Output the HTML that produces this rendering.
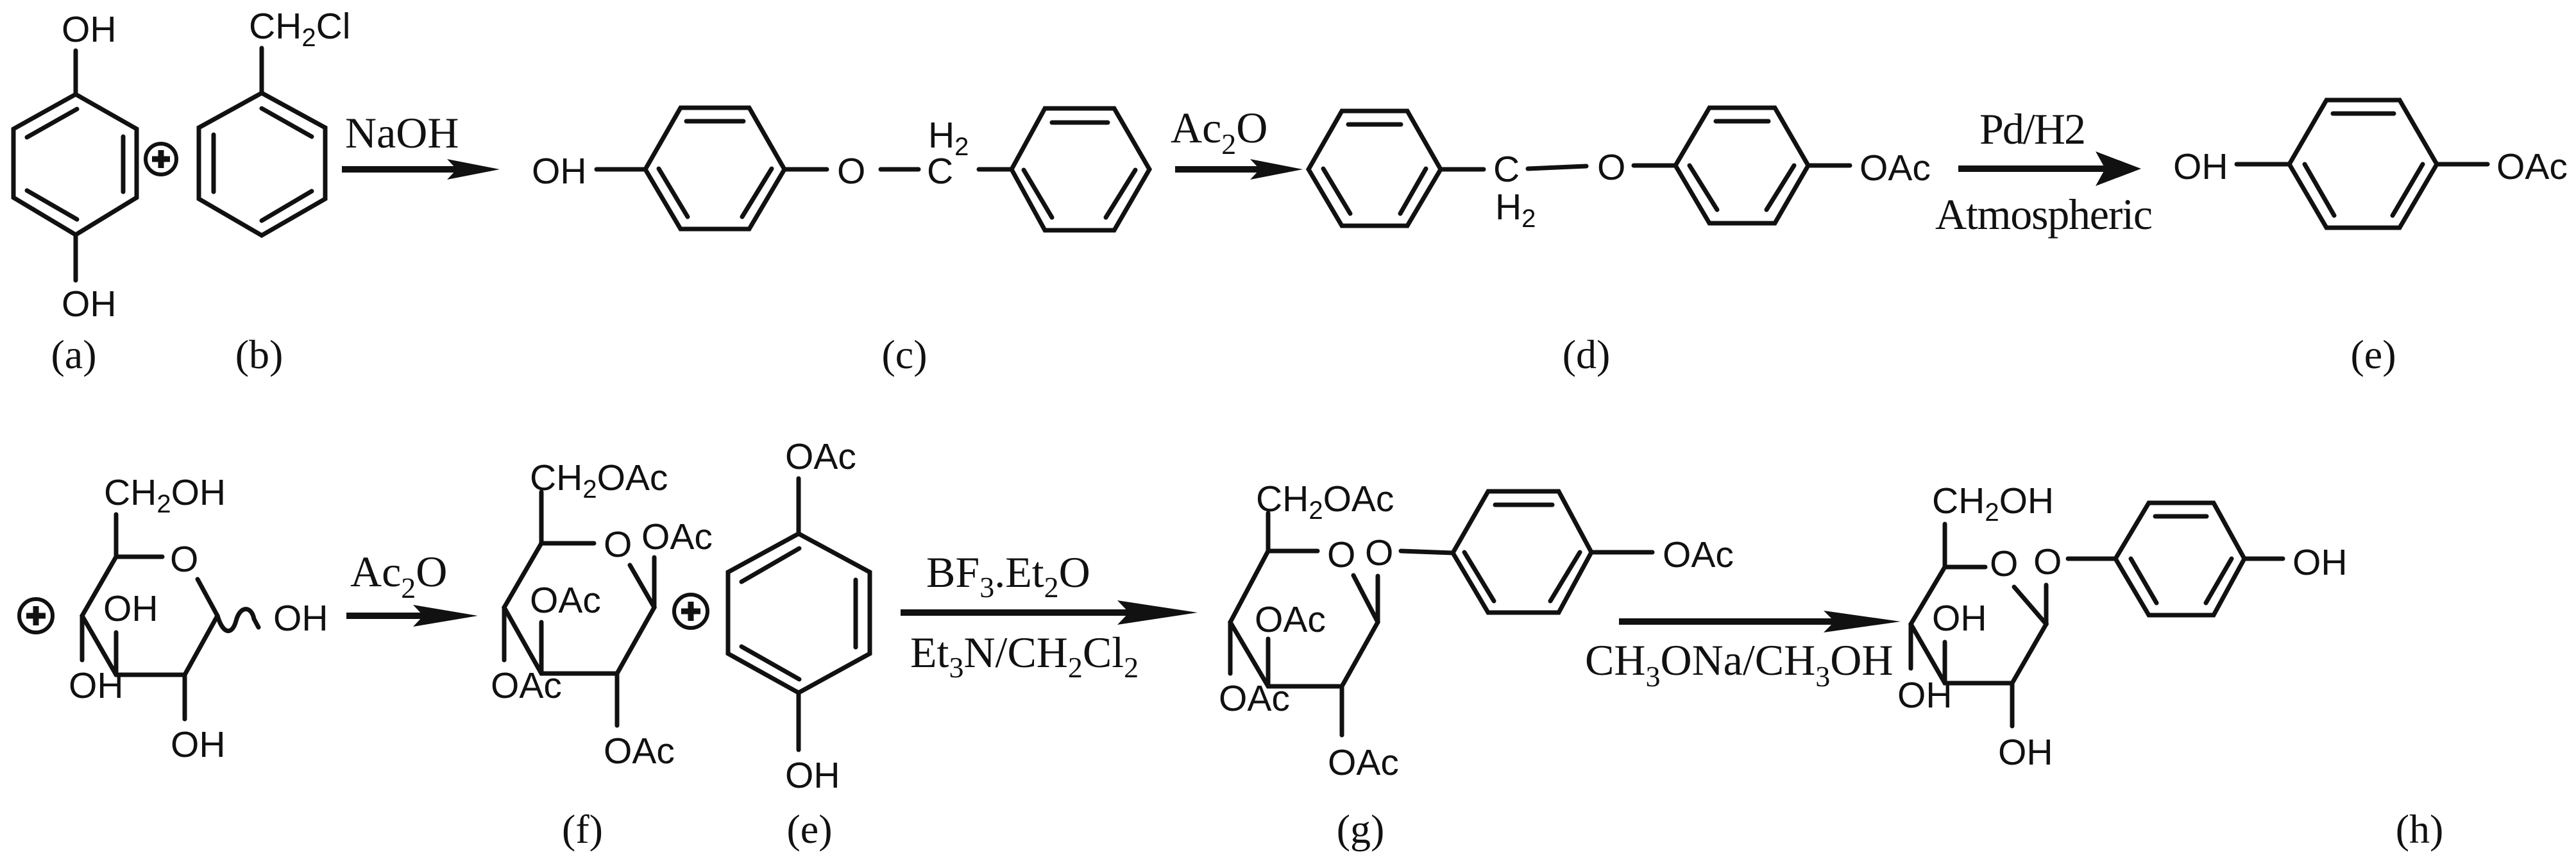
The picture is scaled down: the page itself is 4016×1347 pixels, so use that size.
<!DOCTYPE html>
<html><head><meta charset="utf-8"><style>
html,body{margin:0;padding:0;background:#fff;}
svg{display:block;}
.s{font-family:"Liberation Sans",Arial,sans-serif;font-size:57px;fill:#111;}
.sb{font-size:40px;}
.t{font-family:"Liberation Serif","Times New Roman",serif;fill:#111;}
</style></head><body>
<svg width="4016" height="1347" viewBox="0 0 4016 1347" xmlns="http://www.w3.org/2000/svg">
<rect width="4016" height="1347" fill="#fff"/>
<g fill="none" stroke="#111" stroke-width="7" stroke-linejoin="miter" stroke-linecap="round">
<polygon points="118,147 213,201 213,308 118,366 21,308 21,201"/>
<line x1="42" y1="214" x2="120" y2="170"/><line x1="192" y1="213" x2="192" y2="299"/><line x1="42" y1="297" x2="120" y2="342"/>
<line x1="118" y1="79" x2="118" y2="147"/><line x1="118" y1="366" x2="118" y2="437"/>
<polygon points="408,145 507,199 507,310 408,367 310,310 310,199"/>
<line x1="408" y1="169" x2="486" y2="213"/><line x1="333" y1="210" x2="333" y2="299"/><line x1="408" y1="344" x2="486" y2="298"/>
<line x1="408" y1="75" x2="408" y2="145"/>
<polygon points="1006,264 1061,168 1168,168 1223,264 1168,357 1061,357"/>
<line x1="1070" y1="189" x2="1159" y2="189"/><line x1="1027" y1="263" x2="1072" y2="338"/><line x1="1203" y1="263" x2="1157" y2="338"/>
<line x1="930" y1="264" x2="1006" y2="264"/><line x1="1223" y1="264" x2="1289" y2="264"/><line x1="1373" y1="264" x2="1432" y2="264"/>
<polygon points="1577,264 1629,169 1737,169 1792,264 1737,359 1629,359"/>
<line x1="1640" y1="191" x2="1727" y2="191"/><line x1="1596" y1="265" x2="1640" y2="339"/><line x1="1770" y1="265" x2="1724" y2="339"/>
<line x1="1526" y1="264" x2="1577" y2="264"/>
<polygon points="2040,264 2092,173 2194,173 2246,264 2194,352 2092,352"/>
<line x1="2102" y1="194" x2="2184" y2="194"/><line x1="2063" y1="263" x2="2105" y2="333"/><line x1="2223" y1="263" x2="2183" y2="333"/>
<line x1="2246" y1="264" x2="2313" y2="264"/><line x1="2382" y1="263" x2="2473" y2="259"/><line x1="2547" y1="258" x2="2612" y2="258"/>
<polygon points="2612,258 2665,168 2767,168 2819,258 2767,348 2665,348"/>
<line x1="2675" y1="189" x2="2757" y2="189"/><line x1="2634" y1="258" x2="2677" y2="327"/><line x1="2797" y1="258" x2="2754" y2="327"/>
<line x1="2819" y1="258" x2="2884" y2="258"/>
<polygon points="3569,256 3627,156 3741,156 3799,256 3741,355 3627,355"/>
<line x1="3637" y1="177" x2="3732" y2="177"/><line x1="3593" y1="256" x2="3639" y2="336"/><line x1="3777" y1="256" x2="3730" y2="336"/>
<line x1="3487" y1="256" x2="3569" y2="256"/><line x1="3799" y1="256" x2="3878" y2="256"/>

<polyline points="308,903 339,960 288,1052 181,1052 128,960 181,868 253,868"/>
<line x1="181" y1="868" x2="181" y2="802"/><line x1="128" y1="960" x2="128" y2="1029"/>
<line x1="181" y1="1052" x2="181" y2="986"/><line x1="288" y1="1052" x2="288" y2="1121"/>
<path d="M339,960 C348,990 362,990 368,968 C374,944 392,944 396,965 L403,978"/>
<polyline points="982,881 1020,947 962,1050 844,1050 786,947 844,847 926,847"/>
<line x1="844" y1="847" x2="844" y2="767"/><line x1="1020" y1="947" x2="1020" y2="869"/>
<line x1="786" y1="947" x2="786" y2="1029"/><line x1="844" y1="1050" x2="844" y2="970"/><line x1="962" y1="1050" x2="962" y2="1131"/>
<polygon points="1245,832 1356,892 1356,1019 1245,1080 1135,1019 1135,892"/>
<line x1="1156" y1="907" x2="1246" y2="855"/><line x1="1334" y1="904" x2="1334" y2="1009"/><line x1="1156" y1="1008" x2="1246" y2="1059"/>
<line x1="1245" y1="746" x2="1245" y2="832"/><line x1="1245" y1="1080" x2="1245" y2="1169"/>
<polyline points="2110,897 2148,970 2092,1070 1977,1070 1918,970 1977,859 2054,859"/>
<line x1="1977" y1="859" x2="1977" y2="800"/><line x1="2148" y1="970" x2="2148" y2="898"/>
<line x1="1918" y1="970" x2="1918" y2="1050"/><line x1="1977" y1="1070" x2="1977" y2="996"/><line x1="2092" y1="1070" x2="2092" y2="1146"/>
<line x1="2184" y1="859" x2="2265" y2="862"/>
<polygon points="2265,862 2320,766 2430,766 2481,861 2430,955 2320,955"/>
<line x1="2331" y1="787" x2="2420" y2="787"/><line x1="2463" y1="861" x2="2417" y2="937"/><line x1="2283" y1="861" x2="2329" y2="937"/>
<line x1="2481" y1="861" x2="2576" y2="861"/>
<polyline points="3140,915 3190,973 3137,1065 3032,1065 2979,973 3032,884 3095,884"/>
<line x1="3032" y1="884" x2="3032" y2="817"/><line x1="3190" y1="973" x2="3190" y2="912"/>
<line x1="2979" y1="973" x2="2979" y2="1042"/><line x1="3032" y1="1065" x2="3032" y2="1001"/><line x1="3137" y1="1065" x2="3137" y2="1132"/>
<line x1="3224" y1="871" x2="3298" y2="871"/>
<polygon points="3298,871 3350,784 3451,784 3499,871 3451,959 3350,959"/>
<line x1="3360" y1="805" x2="3440" y2="805"/><line x1="3322" y1="871" x2="3362" y2="940"/><line x1="3479" y1="871" x2="3439" y2="940"/>
<line x1="3499" y1="871" x2="3559" y2="871"/>

<circle cx="251" cy="248" r="24" stroke-width="6"/>
<circle cx="56" cy="960" r="26" stroke-width="6"/>
<circle cx="1077" cy="953" r="26" stroke-width="6"/>
</g>
<g stroke="#111" stroke-width="9">
<line x1="237" y1="248" x2="265" y2="248"/><line x1="251" y1="234" x2="251" y2="262"/>
<line x1="41" y1="960" x2="71" y2="960"/><line x1="56" y1="945" x2="56" y2="975"/>
<line x1="1062" y1="953" x2="1092" y2="953"/><line x1="1077" y1="938" x2="1077" y2="968"/>
</g>
<g stroke="#111" stroke-width="10">
<line x1="533" y1="264" x2="715" y2="264"/>
<line x1="1832" y1="264" x2="1965" y2="264"/>
<line x1="3053" y1="263" x2="3285" y2="263"/>
<line x1="540" y1="960" x2="660" y2="960"/>
<line x1="1404" y1="955" x2="1762" y2="955"/>
<line x1="2524" y1="969" x2="2860" y2="969"/>
</g>
<g fill="#111">
<polygon points="779,264 697,248 712,264 697,280"/>
<polygon points="2031,264 1949,248 1964,264 1949,280"/>
<polygon points="3338,263 3267,236 3282,263 3267,290"/>
<polygon points="745,960 644,943 660,960 644,977"/>
<polygon points="1867,955 1742,936 1760,955 1742,974"/>
<polygon points="2963,969 2843,952 2860,969 2843,986"/>
</g>

<g class="s">
<text x="96" y="65">OH</text>
<text x="96" y="493">OH</text>
<text x="388" y="60">CH<tspan class="sb" dy="12">2</tspan><tspan dy="-12">Cl</tspan></text>
<text x="829" y="286">OH</text>
<text x="1305" y="286">O</text>
<text x="1445" y="286">C</text>
<text x="1447" y="230">H<tspan class="sb" dy="12">2</tspan></text>
<text x="2328" y="283">C</text>
<text x="2331" y="342">H<tspan class="sb" dy="12">2</tspan></text>
<text x="2490" y="280">O</text>
<text x="2899" y="281">OAc</text>
<text x="3388" y="279">OH</text>
<text x="3892" y="279">OAc</text>

<text x="162" y="787">CH<tspan class="sb" dy="12">2</tspan><tspan dy="-12">OH</tspan></text>
<text x="265" y="891">O</text>
<text x="161" y="968">OH</text>
<text x="107" y="1088">OH</text>
<text x="266" y="1180">OH</text>
<text x="426" y="983">OH</text>

<text x="826" y="764">CH<tspan class="sb" dy="12">2</tspan><tspan dy="-12">OAc</tspan></text>
<text x="941" y="868">O</text>
<text x="1000" y="856">OAc</text>
<text x="826" y="955">OAc</text>
<text x="765" y="1088">OAc</text>
<text x="941" y="1190">OAc</text>
<text x="1224" y="731">OAc</text>
<text x="1224" y="1228">OH</text>

<text x="1958" y="797">CH<tspan class="sb" dy="12">2</tspan><tspan dy="-12">OAc</tspan></text>
<text x="2069" y="884">O</text>
<text x="2128" y="881">O</text>
<text x="1956" y="985">OAc</text>
<text x="1900" y="1108">OAc</text>
<text x="2070" y="1208">OAc</text>
<text x="2592" y="884">OAc</text>

<text x="3012" y="800">CH<tspan class="sb" dy="12">2</tspan><tspan dy="-12">OH</tspan></text>
<text x="3102" y="898">O</text>
<text x="3170" y="895">O</text>
<text x="3012" y="983">OH</text>
<text x="2958" y="1103">OH</text>
<text x="3115" y="1192">OH</text>
<text x="3574" y="896">OH</text>
</g>

<g class="t" font-size="68">
<text x="538" y="230">NaOH</text>
<text x="1825" y="222">Ac<tspan font-size="46" dy="18">2</tspan><tspan dy="-18">O</tspan></text>
<text x="3086" y="224" textLength="166">Pd/H2</text>
<text x="3017" y="357" textLength="339">Atmospheric</text>
<text x="546" y="914">Ac<tspan font-size="46" dy="18">2</tspan><tspan dy="-18">O</tspan></text>
<text x="1444" y="915">BF<tspan font-size="46" dy="16">3</tspan><tspan dy="-16">.Et</tspan><tspan font-size="46" dy="16">2</tspan><tspan dy="-16">O</tspan></text>
<text x="1419" y="1040">Et<tspan font-size="46" dy="16">3</tspan><tspan dy="-16">N/CH</tspan><tspan font-size="46" dy="16">2</tspan><tspan dy="-16">Cl</tspan><tspan font-size="46" dy="16">2</tspan></text>
<text x="2471" y="1052">CH<tspan font-size="46" dy="18">3</tspan><tspan dy="-18">ONa/CH</tspan><tspan font-size="46" dy="18">3</tspan><tspan dy="-18">OH</tspan></text>
</g>
<g class="t" font-size="64" text-anchor="middle">
<text x="115" y="574">(a)</text>
<text x="404" y="574">(b)</text>
<text x="1410" y="574">(c)</text>
<text x="2473" y="574">(d)</text>
<text x="3700" y="574">(e)</text>
<text x="908" y="1314">(f)</text>
<text x="1262" y="1314">(e)</text>
<text x="2121" y="1314">(g)</text>
<text x="3772" y="1314">(h)</text>
</g>
</svg>
</body></html>
